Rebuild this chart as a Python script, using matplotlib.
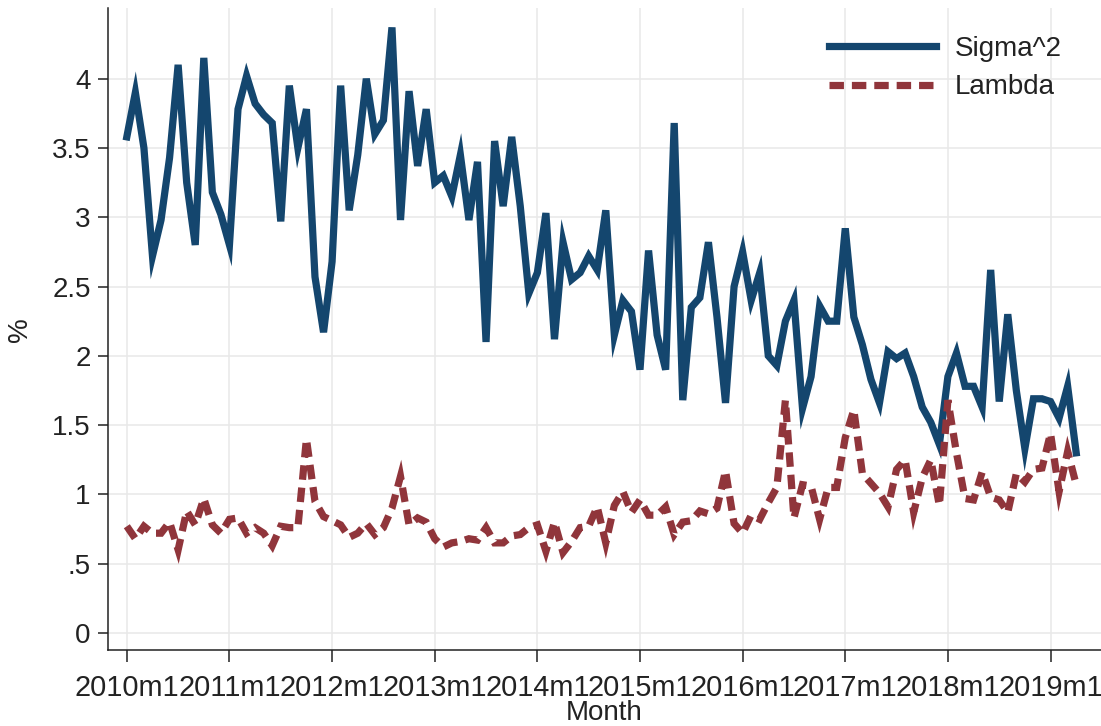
import numpy as np
import matplotlib.pyplot as plt

plt.rcParams['font.family'] = ['Liberation Sans', 'DejaVu Sans']

# monthly series, 2010m1 .. 2019m4
sigma2 = [3.58, 3.90, 3.50, 2.72, 2.98, 3.43, 4.10, 3.25, 2.80, 4.15, 3.18, 3.02,
          2.80, 3.78, 4.02, 3.82, 3.74, 3.68, 2.97, 3.95, 3.50, 3.78, 2.57, 2.17,
          2.68, 3.95, 3.05, 3.45, 4.00, 3.60, 3.70, 4.37, 2.98, 3.91, 3.37, 3.78,
          3.25, 3.30, 3.15, 3.45, 2.98, 3.40, 2.10, 3.55, 3.08, 3.58, 3.08, 2.45,
          2.60, 3.03, 2.12, 2.82, 2.55, 2.60, 2.72, 2.62, 3.05, 2.15, 2.40, 2.32,
          1.90, 2.76, 2.15, 1.90, 3.68, 1.68, 2.35, 2.42, 2.82, 2.28, 1.66, 2.50,
          2.75, 2.40, 2.60, 2.00, 1.93, 2.25, 2.40, 1.62, 1.85, 2.36, 2.25, 2.25,
          2.92, 2.28, 2.08, 1.83, 1.66, 2.03, 1.98, 2.02, 1.85, 1.63, 1.52, 1.36,
          1.85, 2.02, 1.78, 1.78, 1.63, 2.62, 1.67, 2.30, 1.75, 1.33, 1.69, 1.69,
          1.67, 1.55, 1.78, 1.30]

lam = [0.77, 0.68, 0.77, 0.72, 0.72, 0.80, 0.60, 0.88, 0.78, 0.97, 0.78, 0.72,
       0.82, 0.83, 0.72, 0.76, 0.72, 0.63, 0.77, 0.76, 0.76, 1.40, 0.95, 0.84,
       0.81, 0.78, 0.69, 0.72, 0.79, 0.71, 0.76, 0.90, 1.13, 0.78, 0.83, 0.80,
       0.68, 0.62, 0.65, 0.66, 0.68, 0.67, 0.76, 0.65, 0.65, 0.70, 0.71, 0.76,
       0.78, 0.59, 0.80, 0.58, 0.66, 0.76, 0.77, 0.91, 0.65, 0.92, 1.02, 0.87,
       0.96, 0.85, 0.85, 0.91, 0.71, 0.80, 0.81, 0.88, 0.86, 0.90, 1.17, 0.79,
       0.72, 0.85, 0.82, 0.94, 1.05, 1.68, 0.83, 1.07, 1.06, 0.82, 1.05, 1.05,
       1.41, 1.61, 1.15, 1.08, 1.01, 0.91, 1.18, 1.25, 0.87, 1.12, 1.25, 0.92,
       1.68, 1.30, 0.97, 0.96, 1.16, 0.98, 0.96, 0.87, 1.15, 1.09, 1.18, 1.19,
       1.44, 1.02, 1.31, 1.07]

years = list(range(2010, 2020))
xtick_labels = [f"{y}m1" for y in years]
yticks = [0, 0.5, 1, 1.5, 2, 2.5, 3, 3.5, 4]
ytick_labels = ["0", ".5", "1", "1.5", "2", "2.5", "3", "3.5", "4"]

months = np.arange(len(sigma2))

fig = plt.figure(figsize=(11.01, 7.26), dpi=100)
ax = fig.add_axes([108 / 1101, 76 / 726, 993 / 1101, 642 / 726])

ax.plot(months, sigma2, color='#14466e', lw=5.2, solid_joinstyle='miter',
        label='Sigma^2')
ax.plot(months, lam, color='#90353b', lw=5.2, ls=(0, (2, 1.1)),
        dash_joinstyle='miter', dash_capstyle='butt', label='Lambda')

ax.set_xlim(-2.2, 113.9)
ax.set_ylim(-0.123, 4.51)

ax.set_xticks([12 * i for i in range(len(years))])
ax.set_xticklabels(xtick_labels)
ax.set_yticks(yticks)
ax.set_yticklabels(ytick_labels)

ax.grid(True, color='#e8e8e8', lw=1.1)
ax.set_axisbelow(True)
for s in ['top', 'right']:
    ax.spines[s].set_visible(False)
for s in ['left', 'bottom']:
    ax.spines[s].set_color('#222222')
    ax.spines[s].set_linewidth(1.1)

ax.tick_params(axis='both', colors='#222222', width=1.1)
ax.tick_params(axis='y', length=7, pad=5.5, labelsize=20)
ax.tick_params(axis='x', length=8.6, pad=8.5, labelsize=20.8)

fig.text(20 / 1101, 1 - 330 / 726, '%', rotation=90, ha='center', va='center',
         fontsize=20, color='#222222')
fig.text(604 / 1101, 1 - 713 / 726, 'Month', ha='center', va='center',
         fontsize=20, color='#222222')

ax.legend(loc='upper right', bbox_to_anchor=(1062 / 1101, 1 - 36 / 726),
          bbox_transform=fig.transFigure, frameon=False, fontsize=20,
          handlelength=3.85, handletextpad=0.7, labelspacing=0.45,
          borderpad=0, borderaxespad=0, labelcolor='#222222')

fig.savefig('out.png', dpi=100)
